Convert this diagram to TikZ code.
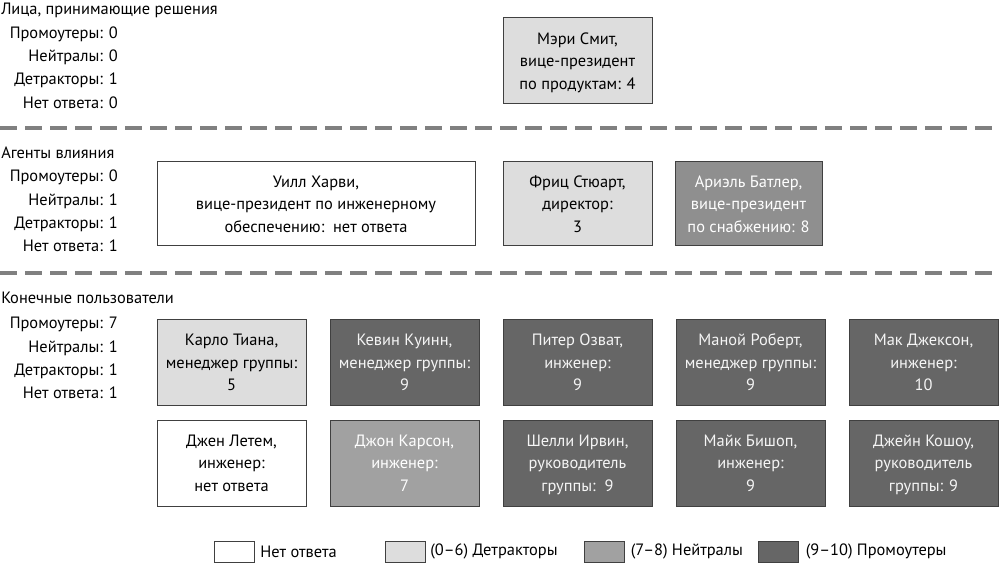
\documentclass[tikz,border=0pt]{standalone}
\usepackage{fontspec}
\setmainfont{PT Sans}
\usetikzlibrary{positioning}

\definecolor{detcol}{gray}{0.867}
\definecolor{neucol}{gray}{0.63}
\definecolor{neudark}{gray}{0.56}
\definecolor{procol}{gray}{0.40}
\definecolor{framecol}{gray}{0.25}
\definecolor{sepcol}{gray}{0.50}

\tikzset{
  base/.style={draw=framecol, line width=0.75pt, align=center, inner sep=0pt,
    font=\fontsize{12.3}{16.9}\selectfont, text depth=-7pt},
  nobox/.style={base, fill=white, text=black},
  detbox/.style={base, fill=detcol, text=black},
  neubox/.style={base, fill=neucol, text=white},
  probox/.style={base, fill=procol, text=white!96!black},
  smallbox/.style={minimum width=111.75pt, minimum height=64pt},
  keybox/.style={draw=framecol, line width=0.75pt, minimum width=30pt, minimum height=15.75pt, inner sep=0pt},
  keytext/.style={anchor=west, inner sep=0pt, font=\fontsize{12.3}{14}\selectfont},
  header/.style={anchor=west, inner sep=0pt, font=\fontsize{12.3}{14}\selectfont},
  stats/.style={anchor=east, align=right, inner sep=0pt, font=\fontsize{12.3}{17.4}\selectfont},
  sepline/.style={draw=sepcol, line width=3pt, dash pattern=on 12.75pt off 6pt}
}

\begin{document}
\begin{tikzpicture}[x=0.75pt, y=-0.75pt]
\useasboundingbox (0,0) rectangle (1000,563);

% decision makers
\node[header] (hdmakers) at (1,10) {Лица, принимающие решения};
\node[stats] (stmakers) at (118,67.5) {Промоутеры: 0\\Нейтралы: 0\\Детракторы: 1\\Нет ответа: 0};
\node[detbox, smallbox, minimum height=64.5pt] (smith) at (577.5,61) {Мэри Смит,\\вице-президент\\по продуктам: 4};

\draw[sepline] (0,128) -- (1000,128);

% influencers
\node[header] (hdagents) at (1,153) {Агенты влияния};
\node[stats] (stagents) at (118,211) {Промоутеры: 0\\Нейтралы: 1\\Детракторы: 1\\Нет ответа: 1};
\node[nobox, minimum width=238.5pt, minimum height=63pt] (harvey) at (316,204) {Уилл Харви,\\вице-президент по инженерному\\обеспечению:\ \ нет ответа};
\node[detbox, smallbox, minimum height=63pt] (stuart) at (577.5,204) {Фриц Стюарт,\\директор:\\3};
\node[neubox, fill=neudark, minimum width=110.25pt, minimum height=63pt] (butler) at (748.5,204) {Ариэль Батлер,\\вице-президент\\по снабжению: 8};

\draw[sepline] (0,273) -- (1000,273);

% end users
\node[header] (hdusers) at (1,298) {Конечные пользователи};
\node[stats] (stusers) at (118,358) {Промоутеры: 7\\Нейтралы: 1\\Детракторы: 1\\Нет ответа: 1};

\node[detbox, smallbox] (tiana) at (231.5,362.5) {Карло Тиана,\\менеджер группы:\\5};
\node[probox, smallbox] (quinn) at (404.5,362.5) {Кевин Куинн,\\менеджер группы:\\9};
\node[probox, smallbox] (ozvat) at (577.5,362.5) {Питер Озват,\\инженер:\\9};
\node[probox, smallbox] (robert) at (750.5,362.5) {Маной Роберт,\\менеджер группы:\\9};
\node[probox, smallbox] (jackson) at (923.5,362.5) {Мак Джексон,\\инженер:\\10};

\node[nobox, smallbox, minimum height=64.5pt] (letem) at (231.5,463) {Джен Летем,\\инженер:\\нет ответа};
\node[neubox, smallbox, minimum height=64.5pt] (carson) at (404.5,463) {Джон Карсон,\\инженер:\\7};
\node[probox, smallbox, minimum height=64.5pt] (irvin) at (577.5,463) {Шелли Ирвин,\\руководитель\\группы:\ \ 9};
\node[probox, smallbox, minimum height=64.5pt] (bishop) at (750.5,463) {Майк Бишоп,\\инженер:\\9};
\node[probox, smallbox, minimum height=64.5pt] (koshou) at (923.5,463) {Джейн Кошоу,\\руководитель\\группы: 9};

% legend
\node[keybox, fill=white] (keynone) at (234.5,551.5) {};
\node[keytext, right=3.75pt of keynone] (lblnone) {Нет ответа};
\node[keybox, fill=detcol] (keydet) at (405.5,551.5) {};
\node[keytext, right=3pt of keydet] (lbldet) {(0–6) Детракторы};
\node[keybox, fill=neucol] (keyneu) at (604,551.5) {};
\node[keytext, right=4.5pt of keyneu] (lblneu) {(7–8) Нейтралы};
\node[keybox, fill=procol] (keypro) at (778,551.5) {};
\node[keytext, right=5.25pt of keypro] (lblpro) {(9–10) Промоутеры};
\end{tikzpicture}
\end{document}
